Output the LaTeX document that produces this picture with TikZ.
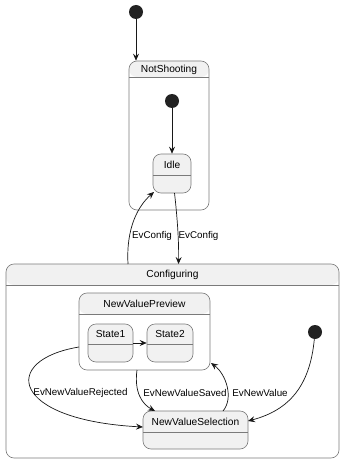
\documentclass[tikz,border=0pt]{standalone}
\usepackage{fontspec}
\setmainfont{Liberation Sans}
\usetikzlibrary{arrows.meta}
\definecolor{hdr}{HTML}{F1F1F1}
\definecolor{bord}{HTML}{7A7A7A}
\definecolor{ink}{HTML}{181818}
\definecolor{dot}{HTML}{222222}
\tikzset{
  compbox/.style={draw=bord, line width=0.6pt, rounded corners=8pt, fill=white, inner sep=0pt,
    path picture={\fill[hdr] (path picture bounding box.north west) rectangle ([yshift=-#1]path picture bounding box.north east);
      \draw[bord, line width=0.6pt] ([yshift=-#1]path picture bounding box.north west) -- ([yshift=-#1]path picture bounding box.north east);}},
  leafbox/.style={draw=bord, line width=0.6pt, rounded corners=8pt, fill=hdr, inner sep=0pt,
    path picture={\draw[bord, line width=0.6pt] ([yshift=-#1]path picture bounding box.north west) -- ([yshift=-#1]path picture bounding box.north east);}},
  initdot/.style={circle, fill=dot, minimum size=14pt, inner sep=0pt},
  title/.style={font=\fontsize{10.2pt}{12pt}\selectfont, text=black, inner sep=0pt},
  lbl/.style={font=\fontsize{9.8pt}{12pt}\selectfont, text=black, inner sep=0pt},
  arr/.style={draw=ink, line width=0.7pt, -{Stealth[length=7pt,width=6pt,inset=2.5pt]}},
}
\begin{document}
\begin{tikzpicture}[x=1pt,y=-1pt]
\useasboundingbox[fill=white] (0,0) rectangle (350,468);
% NotShooting
\node[compbox=16pt, minimum width=80pt, minimum height=149pt] (ns) at (169,135.5) {};
\node[title] (nst) at (169,69.5) {NotShooting};
\node[initdot] (i1) at (136,12) {};
\node[initdot] (i2) at (172,101) {};
\node[leafbox=21pt, minimum width=38pt, minimum height=39pt] (idle) at (172,173.5) {};
\node[title] (idlet) at (172,164.5) {Idle};
% Configuring
\node[compbox=21pt, minimum width=333pt, minimum height=194pt] (conf) at (172.5,361) {};
\node[title] (conft) at (172.5,274.5) {Configuring};
\node[compbox=21pt, minimum width=131pt, minimum height=77pt] (nvp) at (144.5,331.5) {};
\node[title] (nvpt) at (144.5,303.5) {NewValuePreview};
\node[leafbox=20pt, minimum width=45pt, minimum height=38pt] (s1) at (110.5,343) {};
\node[title] (s1t) at (110.5,334) {State1};
\node[leafbox=20pt, minimum width=46pt, minimum height=38pt] (s2) at (170,343) {};
\node[title] (s2t) at (170,334) {State2};
\node[initdot] (i3) at (315,332) {};
\node[leafbox=21pt, minimum width=105pt, minimum height=38pt] (nvs) at (195.5,430) {};
\node[title] (nvst) at (195.5,421.5) {NewValueSelection};
% coordinates
\coordinate (cfa) at (128,264);
\coordinate (idla) at (154,192);
\coordinate (idlb) at (174.5,193);
\coordinate (cfb) at (178.5,264);
\coordinate (nvpl) at (79,347);
\coordinate (nvsl) at (143,427);
\coordinate (nvpb) at (137,370);
\coordinate (nvst1) at (155,411);
\coordinate (nvst2) at (223,411);
\coordinate (nvpr) at (211,363);
\coordinate (nvse) at (248,421);
% arrows
\draw[arr] (i1) -- (i1 |- ns.north);
\draw[arr] (i2) -- (idle.north);
\draw[arr] (cfa) .. controls (126,228) and (138,206) .. (idla);
\draw[arr] (idlb) .. controls (177,215) and (179,240) .. (cfb);
\draw[arr] (s1.east |- 0,343) -- (s2.west |- 0,343);
\draw[arr] (nvpl) .. controls (0,360) and (10,420) .. (nvsl);
\draw[arr] (nvpb) .. controls (134,392) and (142,404) .. (nvst1);
\draw[arr] (nvst2) .. controls (234,398) and (226,374) .. (nvpr);
\draw[arr] (i3) .. controls (310,385) and (290,410) .. (nvse);
% labels
\node[lbl] (l1) at (152,236) {EvConfig};
\node[lbl] (l2) at (198.5,236) {EvConfig};
\node[lbl] (l3) at (80.5,393) {EvNewValueRejected};
\node[lbl] (l4) at (185,393) {EvNewValueSaved};
\node[lbl] (l5) at (260,393) {EvNewValue};
\end{tikzpicture}
\end{document}
